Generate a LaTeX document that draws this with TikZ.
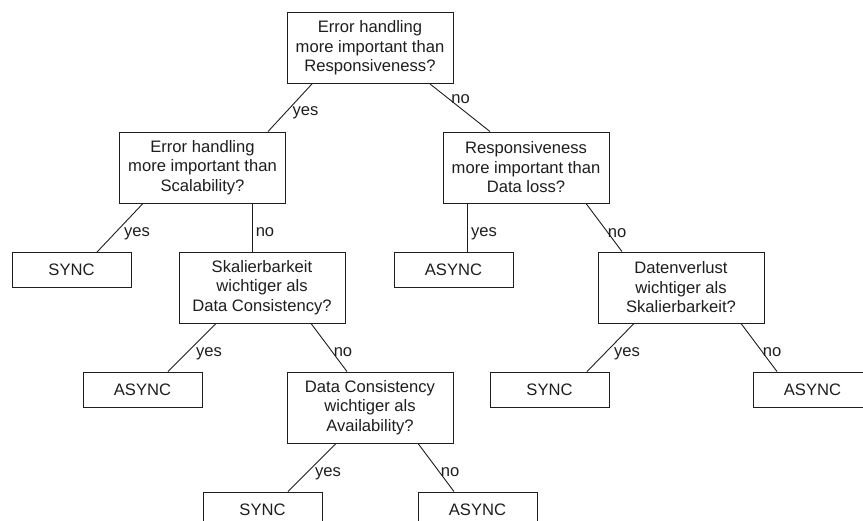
\documentclass[tikz,border=0pt]{standalone}
\usepackage{fontspec}
\setmainfont{Liberation Sans}
\definecolor{ink}{HTML}{1E1E1E}
\begin{document}
\begin{tikzpicture}[x=1pt,y=-1pt,
  every node/.style={font=\fontsize{16.6}{19.5}\selectfont, text=ink},
  question/.style={draw=ink, line width=0.9pt, fill=white, minimum width=166pt,
    minimum height=71pt, align=center, inner sep=0pt},
  answer/.style={draw=ink, line width=0.9pt, fill=white, minimum width=119pt,
    minimum height=35pt, inner sep=0pt},
  branch/.style={draw=ink, line width=0.9pt},
  choice/.style={inner sep=0pt, anchor=base}]
\useasboundingbox (0,0) rectangle (863,521);
\clip (0,0) rectangle (863,521);

% decision boxes
\node[question] (root) at (370,48) {Error handling\\more important than\\Responsiveness?};
\node[question] (scal) at (202.5,167.5) {Error handling\\more important than\\Scalability?};
\node[question] (loss) at (526,167.5) {Responsiveness\\more important than\\Data loss?};
\node[question] (skal) at (262,287.5) {Skalierbarkeit\\wichtiger als\\Data Consistency?};
\node[question] (daten) at (681,287.5) {Datenverlust\\wichtiger als\\Skalierbarkeit?};
\node[question] (cons) at (370,407.5) {Data Consistency\\wichtiger als\\Availability?};

% outcomes
\node[answer] (sA) at (71.5,270) {SYNC};
\node[answer] (aA) at (453.5,270) {ASYNC};
\node[answer] (aB) at (142.5,389.5) {ASYNC};
\node[answer] (sB) at (549.5,389.5) {SYNC};
\node[answer] (aC) at (812.5,389.5) {ASYNC};
\node[answer] (sC) at (262.5,509.5) {SYNC};
\node[answer] (aD) at (477.5,509.5) {ASYNC};

% branches
\draw[branch] ([xshift=-58pt]root.south) -- ([xshift=65.5pt]scal.north);
\draw[branch] ([xshift=60pt]root.south) -- ([xshift=-36pt]loss.north);
\draw[branch] ([xshift=-59.5pt]scal.south) -- ([xshift=25.5pt]sA.north);
\draw[branch] ([xshift=49.5pt]scal.south) -- ([xshift=-10pt]skal.north);
\draw[branch] ([xshift=-59pt]loss.south) -- ([xshift=13.5pt]aA.north);
\draw[branch] ([xshift=60pt]loss.south) -- ([xshift=-59pt]daten.north);
\draw[branch] ([xshift=-46pt]skal.south) -- ([xshift=25.5pt]aB.north);
\draw[branch] ([xshift=49pt]skal.south) -- ([xshift=-23pt]cons.north);
\draw[branch] ([xshift=-47pt]daten.south) -- ([xshift=37.5pt]sB.north);
\draw[branch] ([xshift=60pt]daten.south) -- ([xshift=-35.5pt]aC.north);
\draw[branch] ([xshift=-34pt]cons.south) -- ([xshift=25.5pt]sC.north);
\draw[branch] ([xshift=48pt]cons.south) -- ([xshift=-23.5pt]aD.north);

% branch labels
\node[choice] (y1) at (305.5,116) {yes};
\node[choice] (n1) at (460.5,104) {no};
\node[choice] (y2) at (137,237) {yes};
\node[choice] (n2) at (265,237) {no};
\node[choice] (y3) at (484,237) {yes};
\node[choice] (n3) at (617,238) {no};
\node[choice] (y4) at (209,357) {yes};
\node[choice] (n4) at (343,357) {no};
\node[choice] (y5) at (627,357) {yes};
\node[choice] (n5) at (772,357) {no};
\node[choice] (y6) at (328,477) {yes};
\node[choice] (n6) at (450,477) {no};
\end{tikzpicture}
\end{document}
